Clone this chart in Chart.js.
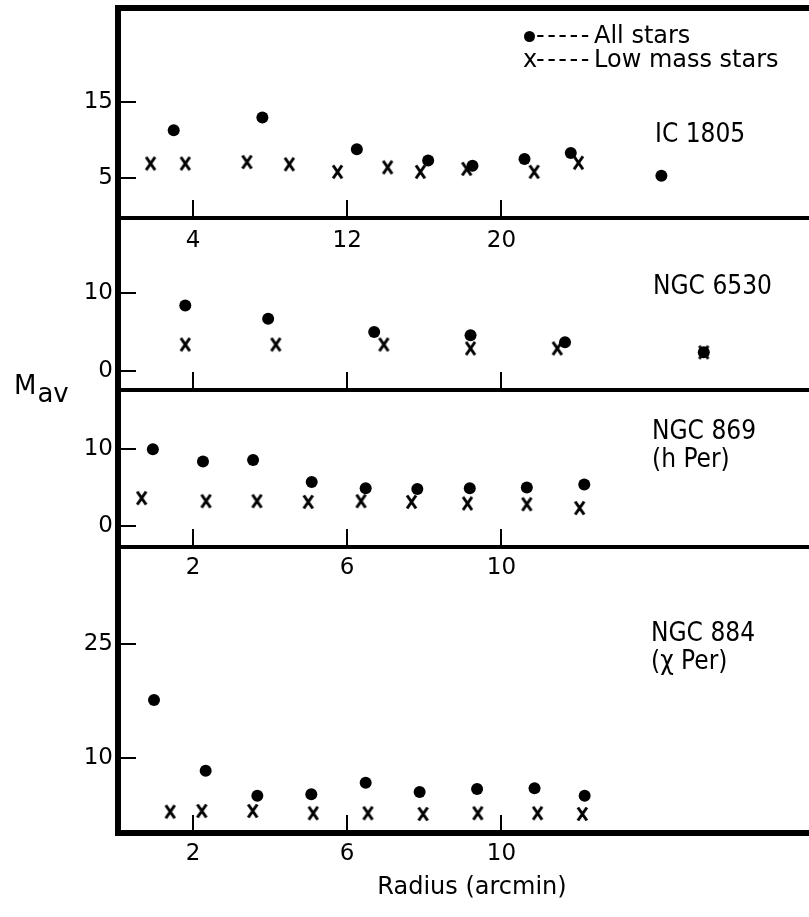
<!DOCTYPE html>
<html>
<head>
<meta charset="utf-8">
<script src="https://cdn.jsdelivr.net/npm/chart.js@4.4.0/dist/chart.umd.min.js"></script>
<style>
  html, body { margin: 0; padding: 0; background: #fff; width: 809px; height: 917px; overflow: hidden; }
  canvas.panel { position: absolute; left: 0; }
  .name { position: absolute; color: #000; white-space: nowrap;
          font-family: "DejaVu Sans Condensed", "Liberation Sans Narrow", "Liberation Sans", sans-serif;
          font-size: 26px; line-height: 28px; }
  .leg { position: absolute; color: #000; white-space: nowrap; font-family: "DejaVu Sans", sans-serif;
         font-size: 24px; line-height: 24px; }
  .dot { position: absolute; left: 524px; top: 31px; width: 11px; height: 11px; border-radius: 50%; background: #000; }
  #mav { position: absolute; left: 14px; top: 372px; font-family: "DejaVu Sans", sans-serif; font-size: 26px; line-height: 26px; color: #000; }
  #mav span { position: relative; top: 8px; margin-left: 1px; }
</style>
</head>
<body>
<canvas id="ic1805" class="panel" width="834" height="262" style="top:0px"></canvas>
<canvas id="ngc6530" class="panel" width="834" height="184" style="top:214px"></canvas>
<canvas id="ngc869" class="panel" width="834" height="203" style="top:388px"></canvas>
<canvas id="ngc884" class="panel" width="834" height="374" style="top:543px"></canvas>

<div class="dot"></div>
<div class="leg" style="left:536px; top:23px; letter-spacing:2.5px;">-----</div>
<div class="leg" style="left:594px; top:23px;">All stars</div>
<div class="leg" style="left:523px; top:47px;">x</div>
<div class="leg" style="left:536px; top:47px; letter-spacing:2.5px;">-----</div>
<div class="leg" style="left:594px; top:47px;">Low mass stars</div>

<div class="name" style="left:655px; top:119px;">IC 1805</div>
<div class="name" style="left:653px; top:271px;">NGC 6530</div>
<div class="name" style="left:652px; top:416px;">NGC 869<br>(h Per)</div>
<div class="name" style="left:651px; top:618px;">NGC 884<br>(χ Per)</div>
<div id="mav">M<span>av</span></div>

<script>
// IC 1805 (radius in arcmin, M_av)
var ic1805AllR = [3.0, 7.6, 12.5, 16.2, 18.5, 21.2, 23.6, 28.3];
var ic1805AllM = [11.3, 13.0, 8.8, 7.3, 6.6, 7.5, 8.3, 5.3];
var ic1805LowR = [1.8, 3.6, 6.8, 9.0, 11.5, 14.1, 15.8, 18.2, 21.7, 24.0];
var ic1805LowM = [6.9, 6.9, 7.1, 6.8, 5.8, 6.4, 5.8, 6.2, 5.8, 7.0];

// NGC 6530
var ngc6530AllR = [3.6, 7.9, 13.4, 18.4, 23.3, 30.5];
var ngc6530AllM = [8.4, 6.7, 5.0, 4.6, 3.7, 2.4];
var ngc6530LowR = [3.6, 8.3, 13.9, 18.4, 22.9, 30.5];
var ngc6530LowM = [3.4, 3.4, 3.4, 2.9, 2.9, 2.4];

// NGC 869 (h Per)
var ngc869AllR = [0.96, 2.26, 3.56, 5.08, 6.48, 7.82, 9.18, 10.66, 12.15];
var ngc869AllM = [10.0, 8.4, 8.6, 5.7, 4.9, 4.8, 4.9, 5.0, 5.4];
var ngc869LowR = [0.67, 2.34, 3.66, 4.99, 6.36, 7.67, 9.12, 10.66, 12.03];
var ngc869LowM = [3.6, 3.2, 3.2, 3.1, 3.2, 3.1, 2.9, 2.8, 2.3];

// NGC 884 (chi Per)
var ngc884AllR = [0.99, 2.33, 3.67, 5.07, 6.48, 7.88, 9.37, 10.86, 12.16];
var ngc884AllM = [17.6, 8.3, 5.0, 5.2, 6.7, 5.5, 5.9, 6.0, 5.0];
var ngc884LowR = [1.41, 2.23, 3.55, 5.12, 6.54, 7.97, 9.39, 10.94, 12.1];
var ngc884LowM = [2.9, 3.0, 3.0, 2.7, 2.7, 2.6, 2.7, 2.7, 2.6];

// tick labels
var wideXTicks = [4, 12, 20];
var narrowXTicks = [2, 6, 10];
var ic1805YTicks = [5, 15];
var ngc6530YTicks = [0, 10];
var ngc869YTicks = [0, 10];
var ngc884YTicks = [10, 25];

var tickFont = { family: "'DejaVu Sans', sans-serif", size: 23 };

// the "x" marker, drawn once and used as point style
var xMark = document.createElement('canvas');
xMark.width = 13;
xMark.height = 16;
var g = xMark.getContext('2d');
g.strokeStyle = '#000';
g.lineWidth = 3;
g.beginPath();
g.moveTo(2, 1.5); g.lineTo(11, 14.5);
g.moveTo(11, 1.5); g.lineTo(2, 14.5);
g.stroke();

function pairs(xs, ys) {
  return xs.map(function (x, i) { return { x: x, y: ys[i] }; });
}

// no extra room for labels sticking out of the axes
function noPad(s) {
  s.paddingTop = 0; s.paddingBottom = 0; s.paddingLeft = 0; s.paddingRight = 0;
}

// heavy frame: left side (a bit past both ends so panels join) and optionally the top
var frame = {
  id: 'frame',
  afterDraw: function (chart, args, opts) {
    var ctx = chart.ctx, a = chart.chartArea;
    ctx.save();
    ctx.strokeStyle = '#000';
    ctx.lineWidth = 6;
    ctx.beginPath();
    ctx.moveTo(a.left, a.top - 3);
    ctx.lineTo(a.left, a.bottom + 3);
    if (opts.top) {
      ctx.moveTo(a.left - 3, a.top);
      ctx.lineTo(a.right, a.top);
    }
    ctx.stroke();
    ctx.restore();
  }
};

function makePanel(id, c) {
  return new Chart(document.getElementById(id), {
    type: 'scatter',
    data: {
      datasets: [{
        label: 'All stars',
        data: pairs(c.allR, c.allM),
        pointStyle: 'circle',
        pointRadius: 6,
        borderWidth: 0,
        backgroundColor: '#000',
        borderColor: '#000'
      }, {
        label: 'Low mass stars',
        data: pairs(c.lowR, c.lowM),
        pointStyle: xMark,
        pointRadius: 7,
        backgroundColor: '#000',
        borderColor: '#000'
      }]
    },
    options: {
      responsive: false,
      animation: false,
      devicePixelRatio: 1,
      layout: { padding: { top: c.padTop, left: 0, right: 0, bottom: 0 } },
      plugins: { legend: { display: false }, tooltip: { enabled: false }, frame: { top: !!c.top } },
      scales: {
        x: {
          type: 'linear',
          position: 'bottom',
          min: c.xMin,
          max: c.xMax,
          afterBuildTicks: function (s) { s.ticks = c.xTicks.map(function (v) { return { value: v }; }); },
          afterFit: function (s) { s.height = c.xAxisHeight; noPad(s); },
          grid: { drawOnChartArea: false, drawTicks: true, tickLength: -18, color: '#000', lineWidth: 2 },
          border: { display: true, color: '#000', width: c.bottomWidth },
          ticks: {
            display: c.showXLabels,
            padding: c.xPad,
            color: '#000',
            font: tickFont,
            maxRotation: 0,
            autoSkip: false,
            callback: function (v) { return String(v); }
          },
          title: c.xTitle ? {
            display: true,
            text: c.xTitle,
            color: '#000',
            font: { family: "'DejaVu Sans', sans-serif", size: 24 },
            padding: { top: 0, bottom: 15 }
          } : { display: false }
        },
        y: {
          type: 'linear',
          position: 'left',
          min: c.yMin,
          max: c.yMax,
          afterBuildTicks: function (s) { s.ticks = c.yTicks.map(function (v) { return { value: v }; }); },
          afterFit: function (s) { s.width = 118; noPad(s); },
          grid: { drawOnChartArea: false, drawTicks: true, tickLength: -18, color: '#000', lineWidth: 2 },
          border: { display: true, color: '#000', width: 6 },
          ticks: {
            padding: 23,
            color: '#000',
            font: tickFont,
            callback: function (v) { return String(v); }
          }
        }
      }
    },
    plugins: [frame]
  });
}

makePanel('ic1805', {
  allR: ic1805AllR, allM: ic1805AllM, lowR: ic1805LowR, lowM: ic1805LowM,
  xMin: 0.11, xMax: 36.84, xTicks: wideXTicks, showXLabels: true, xPad: 27, xAxisHeight: 44,
  yMin: -0.3, yMax: 27.46, yTicks: ic1805YTicks, padTop: 7, bottomWidth: 4, top: true
});
makePanel('ngc6530', {
  allR: ngc6530AllR, allM: ngc6530AllM, lowR: ngc6530LowR, lowM: ngc6530LowM,
  xMin: 0.11, xMax: 36.84, xTicks: wideXTicks, showXLabels: false, xPad: 0, xAxisHeight: 6,
  yMin: -2.44, yMax: 19.14, yTicks: ngc6530YTicks, padTop: 4, bottomWidth: 4
});
makePanel('ngc869', {
  allR: ngc869AllR, allM: ngc869AllM, lowR: ngc869LowR, lowM: ngc869LowM,
  xMin: 0.056, xMax: 18.42, xTicks: narrowXTicks, showXLabels: true, xPad: 25, xAxisHeight: 44,
  yMin: -2.81, yMax: 16.99, yTicks: ngc869YTicks, padTop: 4, bottomWidth: 4
});
makePanel('ngc884', {
  allR: ngc884AllR, allM: ngc884AllM, lowR: ngc884LowR, lowM: ngc884LowM,
  xMin: 0.056, xMax: 18.42, xTicks: narrowXTicks, showXLabels: true, xPad: 25, xAxisHeight: 84,
  yMin: 0.1, yMax: 37.19, yTicks: ngc884YTicks, padTop: 4, bottomWidth: 6,
  xTitle: 'Radius (arcmin)'
});
</script>
</body>
</html>
